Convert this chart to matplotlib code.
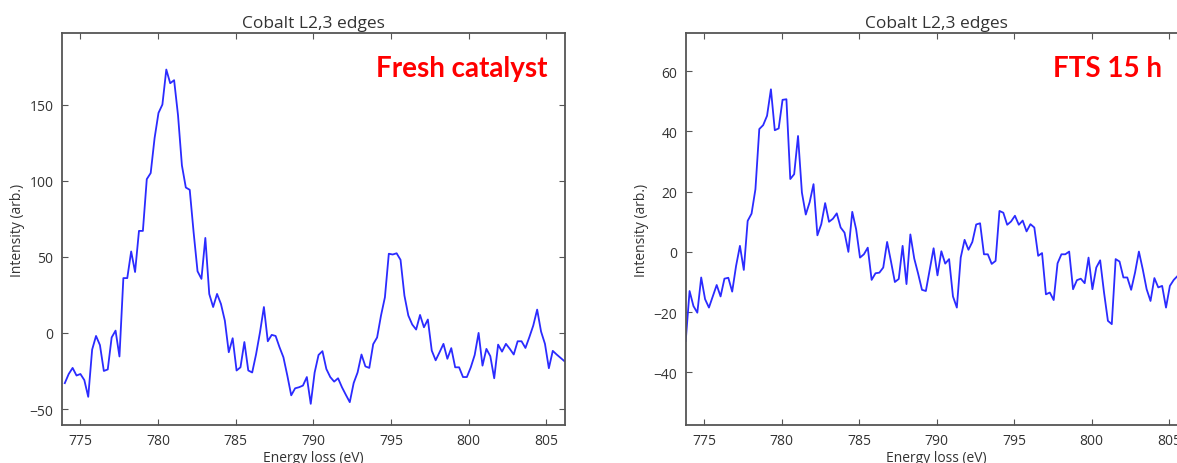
"""
Cobalt L2,3 EELS edges: fresh catalyst vs. after 15 h of FTS.

Writes out.png (1177x464).
"""

import matplotlib as mpl
import matplotlib.pyplot as plt
import numpy as np

# ── data ──────────────────────────────────────────────────────────────────────
FRESH_E_START = 774.0
FRESH_E_STEP = 0.2513
FRESH_INTENSITY = [
    -33, -27, -23, -28, -27, -31, -42, -11, -2, -8,
    -25, -24, -3, 1.5, -15.5, 36, 36, 53.5, 40, 67,
    67, 101, 105, 128, 144.5, 150, 173, 164, 166, 143,
    110, 95.5, 94, 66, 40.5, 35.5, 62.4, 25.6, 17, 25.6,
    19, 8, -12.7, -3.5, -24.7, -22.6, -6, -24.7, -26, -14,
    0.4, 17, -5.5, -1.3, -2, -9.4, -16, -28, -41, -36.4,
    -35.7, -34.6, -29, -46.6, -26, -14.5, -12, -23.7, -29, -32,
    -29.8, -35.7, -40.7, -45.5, -32.9, -26, -14.2, -22, -23, -7.4,
    -3, 11.4, 23.4, 52, 51.5, 52.3, 48, 24.5, 11.4, 5.5,
    2.2, 11.8, 3.7, 8.8, -11.6, -18, -12.7, -7.2, -17, -10,
    -22.6, -22.6, -29, -29, -22.6, -14.5, 0, -21.5, -10.5, -15.3,
    -29.8, -7.7, -12.3, -7.2, -10.5, -14.2, -5.5, -5.5, -9.9, -2.8,
    4.8, 15.3, 0.9, -7.2, -23.2, -11.8, -14.2, -16.4, -18.6,
]

FTS_E_START = 773.8
FTS_E_STEP = 0.25
FTS_INTENSITY = [
    -29.6, -13, -18, -20.2, -8.5, -15.7, -18.5, -14.8, -11, -14.8,
    -8.9, -8.6, -13.2, -4.7, 2, -6, 10.3, 12.7, 20.8, 40.8,
    42.1, 45.2, 54, 40.4, 41, 50.5, 50.7, 24.2, 25.8, 38.5,
    19.7, 12.4, 16.5, 22.5, 5.5, 9.2, 16.2, 10, 11, 12.8,
    8.1, 6.4, 0, 13.3, 7.5, -1.9, -0.8, 1.4, -9.3, -7.1,
    -6.9, -5.2, 3.3, -3.2, -10, -9, 2, -10.7, 5.8, -2.2,
    -7.2, -12.6, -13, -6, 1.2, -7.8, 0.2, -3.9, -2.4, -14.8,
    -18.5, -1.9, 4, 0.7, 3.3, 9.1, 9.5, -0.8, -0.8, -4,
    -3, 13.6, 13, 9, 10.1, 12, 9, 10.4, 6.8, 9.2,
    8.1, -1.3, -0.4, -14.1, -13.5, -16, -3.8, -0.8, -0.8, 0.1,
    -12.4, -9.4, -8.9, -10.4, -1.9, -12.4, -5.2, -2.8, -13.5, -22.9,
    -24, -2.4, -3.2, -8.5, -8.5, -12.6, -6.9, 0.1, -5.8, -12.4,
    -16.3, -8.7, -11.8, -11.3, -18.5, -11.3, -9.3, -8, -6.5,
]

PANELS = [
    # (label, start, step, intensities, ylim, yticks)
    ("Fresh catalyst", FRESH_E_START, FRESH_E_STEP, FRESH_INTENSITY,
     (-60.5, 197), [-50, 0, 50, 100, 150]),
    ("FTS 15 h", FTS_E_START, FTS_E_STEP, FTS_INTENSITY,
     (-57.5, 72.7), [-40, -20, 0, 20, 40, 60]),
]
XTICKS = [775, 780, 785, 790, 795, 800, 805]
XLIM = (773.8, 806.2)

# ── style ─────────────────────────────────────────────────────────────────────
mpl.rcParams.update({
    "font.family": ["Open Sans", "DejaVu Sans"],
    "font.size": 10,
    "text.color": "#333333",
    "axes.labelcolor": "#333333",
    "axes.edgecolor": "#555555",
    "axes.linewidth": 1.3,
    "xtick.color": "#555555",
    "ytick.color": "#555555",
    "xtick.labelcolor": "#333333",
    "ytick.labelcolor": "#333333",
    "xtick.labelsize": 10,
    "ytick.labelsize": 10,
    "xtick.direction": "in",
    "ytick.direction": "in",
    "xtick.top": True,
    "ytick.right": True,
    "xtick.major.size": 4,
    "ytick.major.size": 4,
    "xtick.major.pad": 6,
    "ytick.major.pad": 6,
})

W, H = 1177, 464
fig = plt.figure(figsize=(W / 100, H / 100), dpi=100)

# axes boxes in pixels: (left, right) ; the second panel runs past the crop
boxes = [(61.7, 565.0), (685.7, 1187.7)]
top_px, bottom_px = 34.0, 426.0
text_right = [0.966, 0.949]

for (label, start, step, values, ylim, yticks), (x0, x1), tx in zip(PANELS, boxes, text_right):
    ax = fig.add_axes([x0 / W, (H - bottom_px) / H, (x1 - x0) / W, (bottom_px - top_px) / H])
    energy = start + step * np.arange(len(values))
    ax.plot(energy, values, color="#2b2bff", linewidth=1.3)
    ax.set_xlim(*XLIM)
    ax.set_ylim(*ylim)
    ax.set_xticks(XTICKS)
    ax.set_yticks(yticks)
    ax.set_title("Cobalt L2,3 edges", fontsize=12.5, pad=4)
    ax.set_xlabel("Energy loss (eV)", fontsize=10, labelpad=1)
    ax.set_ylabel("Intensity (arb.)", fontsize=10, labelpad=3)
    ax.text(tx, 0.911, label, transform=ax.transAxes, ha="right", va="center",
            color="#ff0000", fontsize=20, fontweight="bold", family=["Lato", "DejaVu Sans"])

fig.savefig("out.png", dpi=100)
